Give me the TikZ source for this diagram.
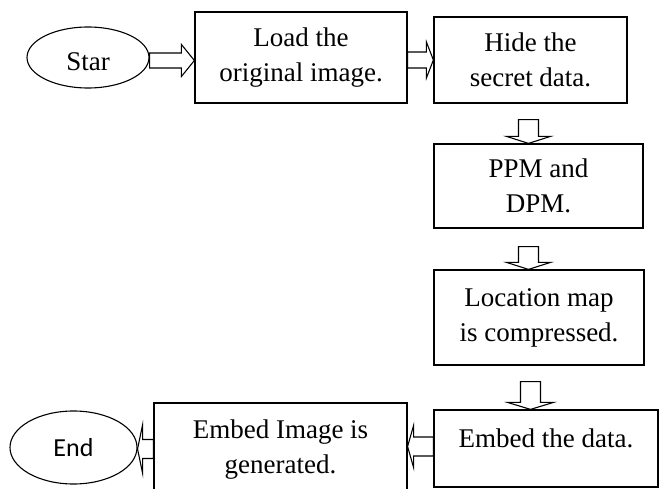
\documentclass[tikz,border=0pt]{standalone}
\usepackage{fontspec}
\setmainfont{Liberation Serif}
\newfontfamily\boxfont{Liberation Serif}
\newfontfamily\endfont{Carlito}
\usetikzlibrary{calc,shapes.geometric}

% block arrows: from, to, shaft half width, head half width, head length
\newcommand{\fatright}[5]{%
  \draw[fatarrow] let \p1=(#1), \p2=(#2) in
    (\x1,\y1+#3) -- (\x2-#5,\y1+#3) -- (\x2-#5,\y1+#4) -- (\x2,\y1)
    -- (\x2-#5,\y1-#4) -- (\x2-#5,\y1-#3) -- (\x1,\y1-#3) -- cycle;}
\newcommand{\fatleft}[5]{%
  \draw[fatarrow] let \p1=(#1), \p2=(#2) in
    (\x1,\y1+#3) -- (\x2+#5,\y1+#3) -- (\x2+#5,\y1+#4) -- (\x2,\y1)
    -- (\x2+#5,\y1-#4) -- (\x2+#5,\y1-#3) -- (\x1,\y1-#3) -- cycle;}
\newcommand{\fatdown}[5]{%
  \draw[fatarrow] let \p1=(#1), \p2=(#2) in
    (\x1-#3,\y1) -- (\x1-#3,\y2+#5) -- (\x1-#4,\y2+#5) -- (\x1,\y2)
    -- (\x1+#4,\y2+#5) -- (\x1+#3,\y2+#5) -- (\x1+#3,\y1) -- cycle;}

\begin{document}
\begin{tikzpicture}[
            x=1pt, y=-1pt,
            box/.style={rectangle, draw=black, line width=1.2pt, align=center, inner sep=0pt,
                        font=\boxfont\fontsize{27}{35}\selectfont},
            term/.style={ellipse, draw=black, line width=1.1pt, inner sep=0pt},
            fatarrow/.style={draw=black, line width=1.1pt, line join=miter}
        ]
        \clip (0,0) rectangle (659,489);

        \node[term, minimum width=122pt, minimum height=61pt] (start) at (88,57.5) {};
        \node[font=\boxfont\fontsize{27}{30}\selectfont, inner sep=0pt] (startlabel) at (88,62) {Star};
        \node[box, minimum width=212pt, minimum height=91pt] (load) at (301,57.5) {Load the\\original image.};
        \node[box, minimum width=193pt, minimum height=86pt] (hide) at (530.5,60) {Hide the\\secret data.};
        \node[box, minimum width=209pt, minimum height=84pt] (ppm) at (538.5,186) {PPM and\\DPM.};
        \node[box, minimum width=210pt, minimum height=95pt] (loc) at (539,317.5) {Location map\\is compressed.};
        \node[box, minimum width=224pt, minimum height=77pt,
              text height=17pt, text depth=19pt] (data) at (546,448.5) {Embed the data.};
        \node[box, minimum width=253pt, minimum height=94pt] (img) at (280.5,450) {Embed Image is\\generated.};
        \node[term, minimum width=127pt, minimum height=73pt,
              font=\endfont\fontsize{26}{30}\selectfont] (end) at (73.5,447.5) {End};

        \fatright{$(start.east)+(0,3)$}{load.west}{7.5pt}{16pt}{13pt}
        \fatright{$(load.east)+(0,2.5)$}{hide.west}{8pt}{18pt}{7pt}
        \fatdown{$(hide.south)+(-2,16)$}{ppm.north}{10pt}{22pt}{7pt}
        \fatdown{$(hide.south |- ppm.south)+(-2,18)$}{loc.north}{10pt}{22pt}{7pt}
        \fatdown{$(hide.south |- loc.south)+(0,16)$}{data.north}{10pt}{23pt}{7pt}
        \fatleft{$(data.west)+(0,-2)$}{img.east}{9.5pt}{21pt}{6pt}
        \fatleft{$(img.west)+(0,-1)$}{end.east}{9.5pt}{24pt}{5pt}

    \end{tikzpicture}
\end{document}
